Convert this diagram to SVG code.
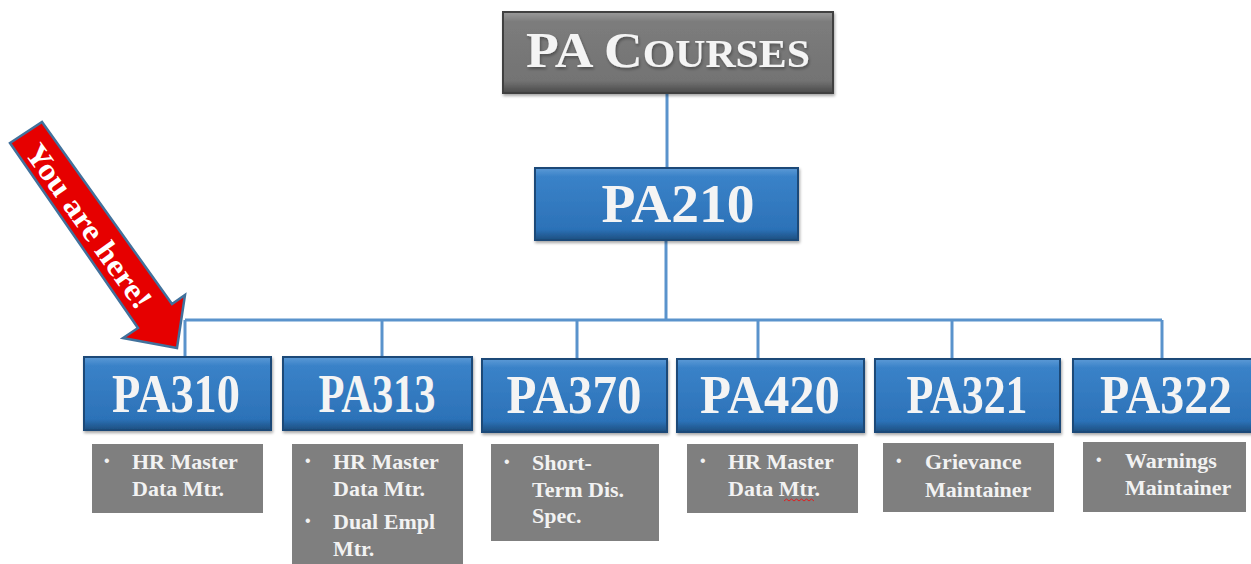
<svg xmlns="http://www.w3.org/2000/svg" width="1251" height="564" viewBox="0 0 1251 564">
<defs>
<linearGradient id="blueG" x1="0" y1="0" x2="0" y2="1">
<stop offset="0" stop-color="#5c9ad6"/>
<stop offset="0.12" stop-color="#3a82c8"/>
<stop offset="0.85" stop-color="#2c72b8"/>
<stop offset="1" stop-color="#1d4f80"/>
</linearGradient>
<linearGradient id="grayG" x1="0" y1="0" x2="0" y2="1">
<stop offset="0" stop-color="#9a9a9a"/>
<stop offset="0.12" stop-color="#7c7c7c"/>
<stop offset="0.85" stop-color="#737373"/>
<stop offset="1" stop-color="#4a4a4a"/>
</linearGradient>
<filter id="sh" x="-10%" y="-10%" width="120%" height="130%">
<feDropShadow dx="1" dy="2" stdDeviation="1.5" flood-color="#000" flood-opacity="0.35"/>
</filter>
</defs>
<style>
.blue{fill:url(#blueG);stroke:#1c4a78;stroke-width:2}
.hdr{fill:url(#grayG);stroke:#3f3f3f;stroke-width:2}
.sub{fill:#7f7f7f}
.big{font-family:"Liberation Serif",serif;font-weight:bold;fill:#f4f4f4;text-anchor:middle}
.item{font-family:"Liberation Serif",serif;font-weight:bold;font-size:22px;fill:#f2f2f2}
.bul{font-family:"Liberation Sans",sans-serif;font-size:16px;fill:#f2f2f2}
.conn{stroke:#5a93cc;stroke-width:3;fill:none}
</style>
<g id="connectors">
<line class="conn" x1="667" y1="93" x2="667" y2="168"/>
<line class="conn" x1="666" y1="240" x2="666" y2="320"/>
<line class="conn" x1="185" y1="320" x2="1162" y2="320"/>
<line class="conn" x1="185" y1="320" x2="185" y2="357"/>
<line class="conn" x1="382" y1="320" x2="382" y2="357"/>
<line class="conn" x1="577" y1="320" x2="577" y2="359"/>
<line class="conn" x1="758" y1="320" x2="758" y2="359"/>
<line class="conn" x1="952" y1="320" x2="952" y2="359"/>
<line class="conn" x1="1162" y1="320" x2="1162" y2="359"/>
</g>
<g id="pa-courses">
<rect class="hdr" x="503" y="12" width="330" height="81" filter="url(#sh)"/>
<text class="big" x="668" y="67" font-size="50" textLength="284" lengthAdjust="spacingAndGlyphs" filter="url(#sh)">PA C<tspan font-size="39">OURSES</tspan></text>
</g>
<g id="pa210">
<rect class="blue" x="535" y="168" width="263" height="72" filter="url(#sh)"/>
<text class="big" x="678" y="222" font-size="54" textLength="153" lengthAdjust="spacingAndGlyphs">PA210</text>
</g>
<g id="pa310">
<rect class="blue" x="84" y="357" width="187" height="73" filter="url(#sh)"/>
<text class="big" x="176" y="412" font-size="54" textLength="128" lengthAdjust="spacingAndGlyphs">PA310</text>
<rect class="sub" x="92" y="444" width="171" height="69"/>
<text class="bul" x="104" y="466">•</text>
<text class="item" x="132" y="469">HR Master</text>
<text class="item" x="132" y="496">Data Mtr.</text>
</g>
<g id="pa313">
<rect class="blue" x="283" y="357" width="189" height="73" filter="url(#sh)"/>
<text class="big" x="377" y="412" font-size="54" textLength="117" lengthAdjust="spacingAndGlyphs">PA313</text>
<rect class="sub" x="292" y="444" width="171" height="125"/>
<text class="bul" x="305" y="466">•</text>
<text class="item" x="333" y="469">HR Master</text>
<text class="item" x="333" y="496">Data Mtr.</text>
<text class="bul" x="305" y="526">•</text>
<text class="item" x="333" y="529">Dual Empl</text>
<text class="item" x="333" y="556">Mtr.</text>
</g>
<g id="pa370">
<rect class="blue" x="482" y="359" width="185" height="73" filter="url(#sh)"/>
<text class="big" x="574" y="413" font-size="54" textLength="135" lengthAdjust="spacingAndGlyphs">PA370</text>
<rect class="sub" x="491" y="444" width="168" height="97"/>
<text class="bul" x="504" y="467">•</text>
<text class="item" x="532" y="470">Short-</text>
<text class="item" x="532" y="497">Term Dis.</text>
<text class="item" x="532" y="523">Spec.</text>
</g>
<g id="pa420">
<rect class="blue" x="677" y="359" width="187" height="73" filter="url(#sh)"/>
<text class="big" x="770" y="413" font-size="54" textLength="140" lengthAdjust="spacingAndGlyphs">PA420</text>
<rect class="sub" x="687" y="444" width="171" height="69"/>
<text class="bul" x="700" y="466">•</text>
<text class="item" x="728" y="469">HR Master</text>
<text class="item" x="728" y="496">Data Mtr.</text>
<path d="M784 501 l2.5 -2 l2.5 2 l2.5 -2 l2.5 2 l2.5 -2 l2.5 2 l2.5 -2 l2.5 2 l2.5 -2 l2.5 2 l2.5 -2 l2.5 2" fill="none" stroke="#e02020" stroke-width="1"/>
</g>
<g id="pa321">
<rect class="blue" x="875" y="359" width="185" height="73" filter="url(#sh)"/>
<text class="big" x="967" y="413" font-size="54" textLength="121" lengthAdjust="spacingAndGlyphs">PA321</text>
<rect class="sub" x="883" y="443" width="171" height="69"/>
<text class="bul" x="896" y="466">•</text>
<text class="item" x="925" y="469">Grievance</text>
<text class="item" x="925" y="497">Maintainer</text>
</g>
<g id="pa322">
<rect class="blue" x="1073" y="359" width="190" height="73" filter="url(#sh)"/>
<text class="big" x="1166" y="413" font-size="54" textLength="132" lengthAdjust="spacingAndGlyphs">PA322</text>
<rect class="sub" x="1083" y="442" width="163" height="70"/>
<text class="bul" x="1096" y="465">•</text>
<text class="item" x="1125" y="468">Warnings</text>
<text class="item" x="1125" y="495">Maintainer</text>
</g>
<g id="you-are-here">
<polygon points="10,143 42,122 172,304 185,295 177,348 123,338 138,328" fill="#e60000" stroke="#41719c" stroke-width="2.5" stroke-linejoin="miter"/>
<text x="0" y="0" transform="translate(89,226) rotate(54.5)" font-family="Liberation Serif, serif" font-weight="bold" font-size="31" fill="#ffffff" text-anchor="middle" dominant-baseline="central" textLength="195" lengthAdjust="spacingAndGlyphs">You are here!</text>
</g>
</svg>
